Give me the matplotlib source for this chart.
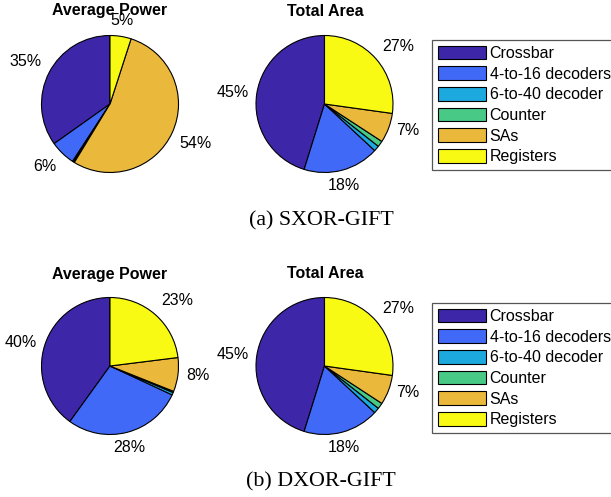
import numpy as np
import matplotlib
matplotlib.use("Agg")
import matplotlib.pyplot as plt

plt.rcParams['font.family'] = ['Liberation Sans', 'DejaVu Sans']

parts = ["Crossbar", "4-to-16 decoders", "6-to-40 decoder", "Counter", "SAs", "Registers"]
colors = ["#3E26A8", "#4169F8", "#1BA9DE", "#48C986", "#EAB83A", "#F8FA14"]

# percentages
power_sxor = [35.0, 6.0, 0.3, 0.2, 54.0, 5.0]
area_sxor = [45.2, 17.9, 1.3, 1.4, 7.0, 27.2]
power_dxor = [40.0, 28.0, 0.6, 0.3, 8.0, 23.0]
area_dxor = [45.2, 17.9, 1.3, 1.4, 7.0, 27.2]

W, H = 611, 497
fig = plt.figure(figsize=(W / 100, H / 100), dpi=100)


def px_axes(cx, cy, r):
    # square axes centred on (cx, cy) in pixels from top-left
    return fig.add_axes([(cx - r) / W, (H - cy - r) / H, 2 * r / W, 2 * r / H])


def draw_pie(ax, vals):
    wedges, _ = ax.pie(vals, colors=colors, startangle=90, counterclock=True,
                       wedgeprops=dict(edgecolor="black", linewidth=0.8))
    tot = sum(vals)
    for w, v in zip(wedges, vals):
        pct = 100 * v / tot
        if pct < 3:
            continue
        a = np.deg2rad((w.theta1 + w.theta2) / 2)
        c, s = np.cos(a), np.sin(a)
        ha = "center" if abs(c) < 0.3 else ("left" if c > 0 else "right")
        va = "center" if abs(s) < 0.4 else ("bottom" if s > 0 else "top")
        ax.text(1.12 * c, 1.12 * s, "%d%%" % round(pct), ha=ha, va=va, fontsize=11.5)
    ax.set_xlim(-1, 1)
    ax.set_ylim(-1, 1)
    ax.set_aspect("equal")
    ax.axis("off")
    return wedges


rows = [(104, 11, 221, "(a) SXOR-GIFT", power_sxor, area_sxor, 40),
        (366, 274, 482, "(b) DXOR-GIFT", power_dxor, area_dxor, 303)]

for cy, ty, capy, cap, pw, ar, legy in rows:
    ax1 = px_axes(110, cy, 68.5)
    wedges = draw_pie(ax1, pw)
    ax2 = px_axes(324.5, cy, 68.5)
    draw_pie(ax2, ar)
    fig.text(110 / W, 1 - ty / H, "Average Power", ha="center", va="center",
             fontsize=11.5, fontweight="bold")
    fig.text(325 / W, 1 - ty / H, "Total Area", ha="center", va="center",
             fontsize=11.5, fontweight="bold")
    fig.text(321 / W, 1 - capy / H, cap, ha="center", va="center",
             fontsize=15.8, family="Liberation Serif")
    leg = fig.legend(wedges, parts, loc="upper left",
                     bbox_to_anchor=(432 / W, 1 - legy / H), borderaxespad=0,
                     fontsize=11.5, handlelength=3.05, handleheight=0.95,
                     handletextpad=0.2, labelspacing=0.33, borderpad=0.35,
                     fancybox=False, framealpha=1, edgecolor="#555555")
    leg.get_frame().set_linewidth(0.9)

fig.savefig("out.png", dpi=100)
